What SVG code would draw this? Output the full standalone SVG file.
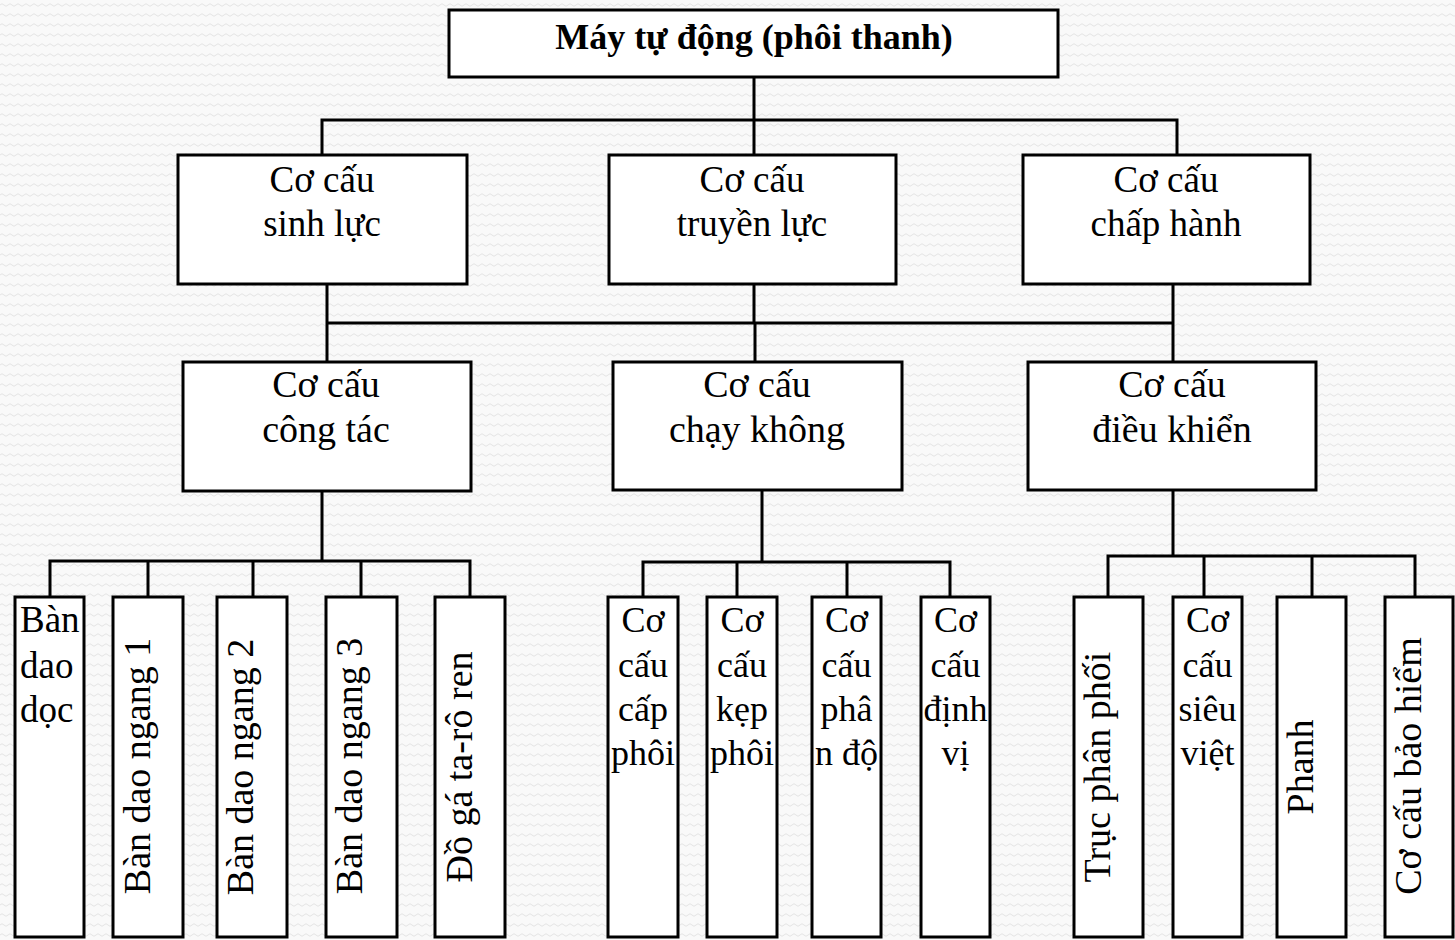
<svg xmlns="http://www.w3.org/2000/svg" width="1455" height="940" viewBox="0 0 1455 940">
<defs>
<pattern id="bg" width="8" height="10" patternUnits="userSpaceOnUse">
<rect width="8" height="10" fill="#f9f9f9"/>
<path d="M0 5 Q2 2.5 4 5 T8 5" fill="none" stroke="#e4e4e4" stroke-width="1"/>
</pattern>
</defs>
<style>
.box{fill:#fff;stroke:#000;stroke-width:3}
.conn{fill:none;stroke:#000;stroke-width:3}
.t{font-family:"Liberation Serif","Times New Roman",serif;fill:#000}
.title{font-size:36px;font-weight:bold;text-anchor:middle}
.r2{font-size:37px;text-anchor:middle}
.r3{font-size:38px;text-anchor:middle}
.v{font-size:36px;text-anchor:middle}
.rot{font-size:38px;text-anchor:middle}
</style>
<rect width="1455" height="940" fill="url(#bg)"/>

<g id="connectors" class="conn">
<path d="M754 77 V155 M322 155 V120 H1177 V155"/>
<path d="M327 284 V362 M754 284 V323 H755 V362 M1173 284 V362 M327 323 H1173"/>
<path d="M322 491 V561 M50 597 V561 H470 V597 M148 561 V597 M253 561 V597 M361 561 V597"/>
<path d="M762 490 V562 M643 597 V562 H950 V597 M737 562 V597 M847 562 V597"/>
<path d="M1173 490 V556 M1108 597 V556 H1415 V597 M1204 556 V597 M1312 556 V597"/>
</g>

<g id="n-root">
<rect class="box" x="449" y="10" width="609" height="67"/>
<text class="t title" x="754" y="49">Máy tự động (phôi thanh)</text>
</g>

<g id="n-sinhluc">
<rect class="box" x="178" y="155" width="289" height="129"/>
<text class="t r2" x="322" y="192">Cơ cấu</text>
<text class="t r2" x="322" y="236">sinh lực</text>
</g>
<g id="n-truyenluc">
<rect class="box" x="609" y="155" width="287" height="129"/>
<text class="t r2" x="752" y="192">Cơ cấu</text>
<text class="t r2" x="752" y="236">truyền lực</text>
</g>
<g id="n-chaphanh">
<rect class="box" x="1023" y="155" width="287" height="129"/>
<text class="t r2" x="1166" y="192">Cơ cấu</text>
<text class="t r2" x="1166" y="236">chấp hành</text>
</g>

<g id="n-congtac">
<rect class="box" x="183" y="362" width="288" height="129"/>
<text class="t r3" x="326" y="397">Cơ cấu</text>
<text class="t r3" x="326" y="442">công tác</text>
</g>
<g id="n-chaykhong">
<rect class="box" x="613" y="362" width="289" height="128"/>
<text class="t r3" x="757" y="397">Cơ cấu</text>
<text class="t r3" x="757" y="442">chạy không</text>
</g>
<g id="n-dieukhien">
<rect class="box" x="1028" y="362" width="288" height="128"/>
<text class="t r3" x="1172" y="397">Cơ cấu</text>
<text class="t r3" x="1172" y="442">điều khiển</text>
</g>

<g id="n-bandaodoc">
<rect class="box" x="15" y="597" width="69" height="340"/>
<text class="t" font-size="37" x="20" y="632">Bàn</text>
<text class="t" font-size="37" x="20" y="678">dao</text>
<text class="t" font-size="37" x="20" y="722">dọc</text>
</g>
<g id="n-ngang1">
<rect class="box" x="113" y="597" width="70" height="340"/>
<text class="t rot" transform="translate(150 766) rotate(-90)">Bàn dao ngang 1</text>
</g>
<g id="n-ngang2">
<rect class="box" x="217" y="597" width="70" height="340"/>
<text class="t rot" transform="translate(253 767) rotate(-90)">Bàn dao ngang 2</text>
</g>
<g id="n-ngang3">
<rect class="box" x="326" y="597" width="71" height="340"/>
<text class="t rot" transform="translate(362 766) rotate(-90)">Bàn dao ngang 3</text>
</g>
<g id="n-doga">
<rect class="box" x="435" y="597" width="70" height="340"/>
<text class="t rot" transform="translate(472 767) rotate(-90)">Đồ gá ta-rô ren</text>
</g>

<g id="n-capphoi">
<rect class="box" x="608" y="597" width="70" height="340"/>
<text class="t v" x="643" y="632">Cơ</text>
<text class="t v" x="643" y="677">cấu</text>
<text class="t v" x="643" y="721">cấp</text>
<text class="t v" x="643" y="765">phôi</text>
</g>
<g id="n-kepphoi">
<rect class="box" x="707" y="597" width="70" height="340"/>
<text class="t v" x="742" y="632">Cơ</text>
<text class="t v" x="742" y="677">cấu</text>
<text class="t v" x="742" y="721">kẹp</text>
<text class="t v" x="742" y="765">phôi</text>
</g>
<g id="n-phando">
<rect class="box" x="812" y="597" width="69" height="340"/>
<text class="t v" x="846.5" y="632">Cơ</text>
<text class="t v" x="846.5" y="677">cấu</text>
<text class="t v" x="846.5" y="721">phâ</text>
<text class="t v" x="846.5" y="765">n độ</text>
</g>
<g id="n-dinhvi">
<rect class="box" x="921" y="597" width="69" height="340"/>
<text class="t v" x="955.5" y="632">Cơ</text>
<text class="t v" x="955.5" y="677">cấu</text>
<text class="t v" x="955.5" y="721">định</text>
<text class="t v" x="955.5" y="765">vị</text>
</g>

<g id="n-trucphanphoi">
<rect class="box" x="1074" y="597" width="69" height="340"/>
<text class="t rot" transform="translate(1110 767) rotate(-90)">Trục phân phối</text>
</g>
<g id="n-sieuviet">
<rect class="box" x="1173" y="597" width="69" height="340"/>
<text class="t v" x="1207.5" y="632">Cơ</text>
<text class="t v" x="1207.5" y="677">cấu</text>
<text class="t v" x="1207.5" y="721">siêu</text>
<text class="t v" x="1207.5" y="765">việt</text>
</g>
<g id="n-phanh">
<rect class="box" x="1277" y="597" width="69" height="340"/>
<text class="t rot" transform="translate(1313 767) rotate(-90)">Phanh</text>
</g>
<g id="n-baohiem">
<rect class="box" x="1385" y="597" width="68" height="340"/>
<text class="t rot" transform="translate(1421 766) rotate(-90)">Cơ cấu bảo hiểm</text>
</g>
</svg>
